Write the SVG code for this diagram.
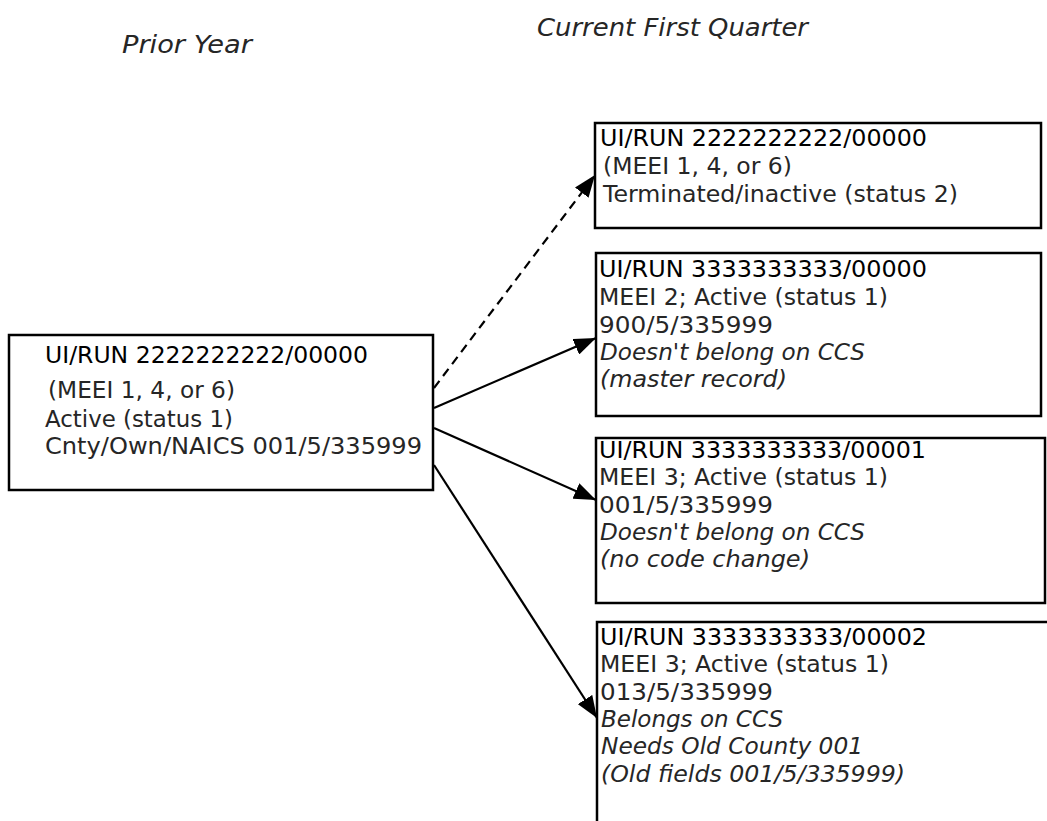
<svg xmlns="http://www.w3.org/2000/svg" width="1047" height="821" viewBox="0 0 1047 821">
<defs>
<marker id="ah" viewBox="0 0 22 17" refX="22" refY="8.5" markerWidth="22" markerHeight="17" markerUnits="userSpaceOnUse" orient="auto">
<path d="M0,0 L22,8.5 L0,17 Z" fill="#000"/>
</marker>
</defs>
<style>
.box{fill:#fff;stroke:#000;stroke-width:2.5}
text{font-family:"DejaVu Sans","Liberation Sans",sans-serif;font-size:23px;fill:#262626}
.t{fill:#000}
.i{font-style:italic}
.h{font-style:italic;font-size:25px}
.c{fill:none;stroke:#000;stroke-width:2.2}
.d{stroke-dasharray:9,6}
</style>
<g id="headers">
<text class="h" x="122" y="53" textLength="130" lengthAdjust="spacingAndGlyphs">Prior Year</text>
<text class="h" x="537" y="36" textLength="271" lengthAdjust="spacingAndGlyphs">Current First Quarter</text>
</g>
<g id="connectors">
<line class="c d" x1="434" y1="388" x2="595" y2="175" marker-end="url(#ah)"/>
<line class="c" x1="434" y1="408" x2="596" y2="338" marker-end="url(#ah)"/>
<line class="c" x1="434" y1="428" x2="596" y2="500" marker-end="url(#ah)"/>
<line class="c" x1="434" y1="465" x2="597" y2="718" marker-end="url(#ah)"/>
</g>
<g id="prior">
<rect class="box" x="9" y="335" width="424" height="155"/>
<text class="t" x="45" y="363" textLength="323" lengthAdjust="spacingAndGlyphs">UI/RUN 2222222222/00000</text>
<text x="48" y="398" textLength="187" lengthAdjust="spacingAndGlyphs">(MEEI 1, 4, or 6)</text>
<text x="45" y="427" textLength="188" lengthAdjust="spacingAndGlyphs">Active (status 1)</text>
<text x="45" y="454" textLength="377" lengthAdjust="spacingAndGlyphs">Cnty/Own/NAICS 001/5/335999</text>
</g>
<g id="q1">
<rect class="box" x="595" y="123" width="446" height="105"/>
<text class="t" x="600" y="146" textLength="327" lengthAdjust="spacingAndGlyphs">UI/RUN 2222222222/00000</text>
<text x="603" y="174" textLength="189" lengthAdjust="spacingAndGlyphs">(MEEI 1, 4, or 6)</text>
<text x="603" y="202" textLength="355" lengthAdjust="spacingAndGlyphs">Terminated/inactive (status 2)</text>
</g>
<g id="q2">
<rect class="box" x="596" y="253" width="445" height="163"/>
<text class="t" x="599" y="277" textLength="328" lengthAdjust="spacingAndGlyphs">UI/RUN 3333333333/00000</text>
<text x="599" y="305" textLength="289" lengthAdjust="spacingAndGlyphs">MEEI 2; Active (status 1)</text>
<text x="599" y="333" textLength="174" lengthAdjust="spacingAndGlyphs">900/5/335999</text>
<text class="i" x="600" y="360" textLength="265" lengthAdjust="spacingAndGlyphs">Doesn't belong on CCS</text>
<text class="i" x="600" y="387" textLength="187" lengthAdjust="spacingAndGlyphs">(master record)</text>
</g>
<g id="q3">
<rect class="box" x="596" y="438" width="449" height="165"/>
<text class="t" x="599" y="458" textLength="327" lengthAdjust="spacingAndGlyphs">UI/RUN 3333333333/00001</text>
<text x="599" y="485" textLength="289" lengthAdjust="spacingAndGlyphs">MEEI 3; Active (status 1)</text>
<text x="599" y="513" textLength="174" lengthAdjust="spacingAndGlyphs">001/5/335999</text>
<text class="i" x="600" y="540" textLength="265" lengthAdjust="spacingAndGlyphs">Doesn't belong on CCS</text>
<text class="i" x="600" y="567" textLength="210" lengthAdjust="spacingAndGlyphs">(no code change)</text>
</g>
<g id="q4">
<path class="box" d="M597,830 V622 H1055"/>
<text class="t" x="600" y="645" textLength="327" lengthAdjust="spacingAndGlyphs">UI/RUN 3333333333/00002</text>
<text x="600" y="672" textLength="289" lengthAdjust="spacingAndGlyphs">MEEI 3; Active (status 1)</text>
<text x="600" y="700" textLength="173" lengthAdjust="spacingAndGlyphs">013/5/335999</text>
<text class="i" x="601" y="727" textLength="182" lengthAdjust="spacingAndGlyphs">Belongs on CCS</text>
<text class="i" x="601" y="754" textLength="262" lengthAdjust="spacingAndGlyphs">Needs Old County 001</text>
<text class="i" x="601" y="782" textLength="304" lengthAdjust="spacingAndGlyphs">(Old fields 001/5/335999)</text>
</g>
</svg>
